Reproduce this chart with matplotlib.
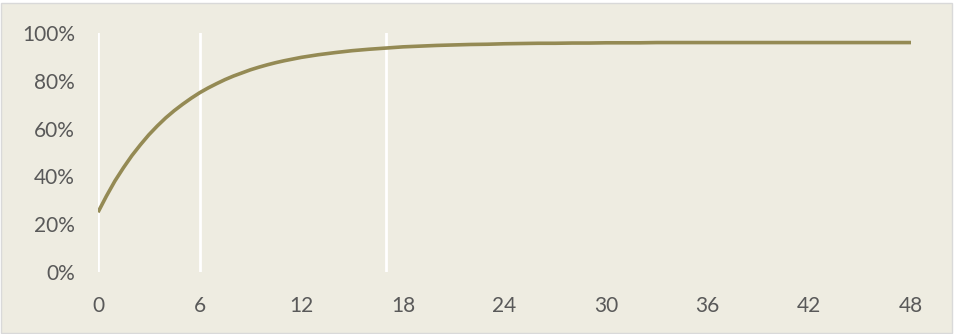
import matplotlib.pyplot as plt
from matplotlib.patches import Rectangle
from matplotlib.ticker import FuncFormatter

# values (hours vs share), denser where it bends
hours = [0, 0.5, 1, 1.5, 2, 2.5, 3, 3.5, 4, 4.5, 5, 5.5, 6, 6.5, 7, 7.5, 8, 8.5,
         9, 9.5, 10, 10.5, 11, 11.5, 12] + list(range(13, 49))
share = [0.250, 0.318, 0.381, 0.436, 0.487, 0.532, 0.574, 0.611, 0.645, 0.675,
         0.702, 0.727, 0.750, 0.770, 0.788, 0.805, 0.820, 0.833, 0.846, 0.857,
         0.867, 0.876, 0.884, 0.891, 0.898,
         0.909, 0.918, 0.926, 0.932, 0.937, 0.942, 0.945,
         0.948, 0.950, 0.952, 0.953, 0.955, 0.956, 0.957, 0.957, 0.958, 0.958,
         0.959, 0.959, 0.959, 0.960, 0.960, 0.960, 0.960, 0.960, 0.960, 0.960,
         0.960, 0.960, 0.960, 0.960, 0.960, 0.960, 0.960, 0.960, 0.960]
markers = [0, 6, 17]
x_ticks = [0, 6, 12, 18, 24, 30, 36, 42, 48]
y_ticks = [0, 0.2, 0.4, 0.6, 0.8, 1.0]

plt.rcParams['font.family'] = ['Lato', 'DejaVu Sans']

fig = plt.figure(figsize=(9.55, 3.34), dpi=100)
fig.patch.set_facecolor('white')
# chart area background + thin grey border
fig.patches.append(Rectangle((1 / 955, 1 / 334), 951 / 955, 330 / 334,
                             transform=fig.transFigure, facecolor='#EEECE1',
                             edgecolor='#D9D9D9', linewidth=1, zorder=-10))

ax = fig.add_axes([98 / 955, 1 - 272 / 334, 813 / 955, 239 / 334])
ax.set_facecolor('none')

for m in markers:
    ax.axvline(m, color='white', linewidth=2.0, zorder=1)

ax.plot(hours, share, color='#948A54', linewidth=2.6, zorder=2,
        solid_capstyle='butt', solid_joinstyle='round')

ax.set_xlim(0, 48)
ax.set_ylim(0, 1)
ax.set_xticks(x_ticks)
ax.set_yticks(y_ticks)
ax.yaxis.set_major_formatter(FuncFormatter(lambda v, p: '%d%%' % round(v * 100)))
ax.tick_params(length=0, labelsize=15, labelcolor='#595959')
ax.tick_params(axis='x', pad=17)
ax.tick_params(axis='y', pad=16.5)
for s in ax.spines.values():
    s.set_visible(False)

fig.savefig('out.png', dpi=100, facecolor=fig.get_facecolor())
